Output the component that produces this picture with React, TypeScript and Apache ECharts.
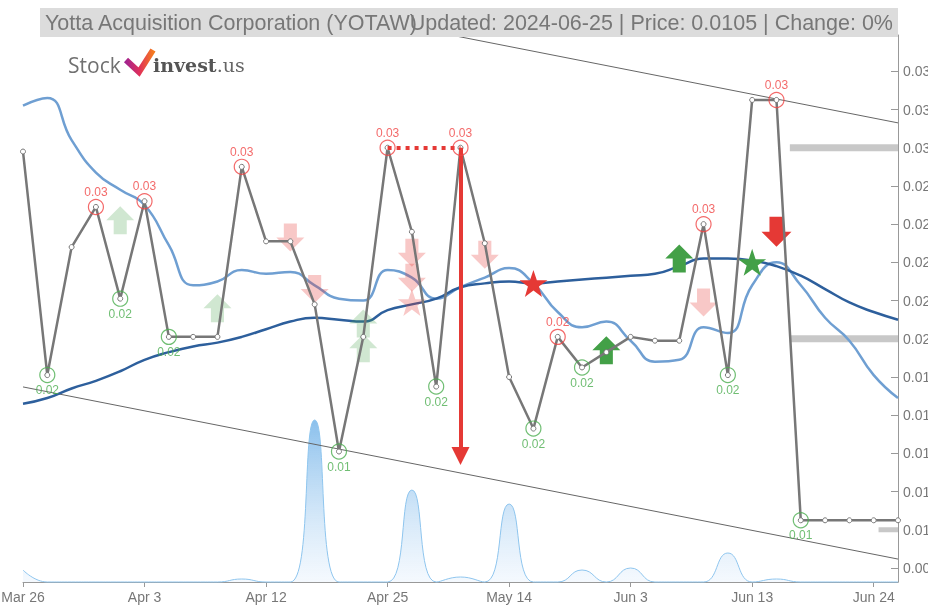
import React, { useEffect, useRef } from 'react';
import * as echarts from 'echarts';

const dates = ['Mar 26','Mar 27','Mar 28','Apr 1','Apr 2','Apr 3','Apr 4','Apr 5','Apr 9','Apr 10','Apr 12','Apr 15','Apr 16','Apr 18','Apr 22','Apr 25','Apr 26','Apr 30','May 2','May 8','May 14','May 16','May 20','May 22','May 29','Jun 3','Jun 4','Jun 5','Jun 6','Jun 11','Jun 13','Jun 14','Jun 17','Jun 18','Jun 20','Jun 24','Jun 25'];

const price = [0.0298,0.0181,0.0248,0.0269,0.0221,0.0272,0.0201,0.0201,0.0201,0.0290,0.0251,0.0251,0.0218,0.0141,0.0201,0.0300,0.0256,0.0175,0.0300,0.0250,0.0180,0.0153,0.0201,0.0185,0.0193,0.0201,0.0199,0.0199,0.0260,0.0181,0.0325,0.0325,0.0105,0.0105,0.0105,0.0105,0.0105];

const maFast = [0.0322,0.0326,0.0304,0.0287,0.0278,0.0270,0.0249,0.0228,0.0230,0.0236,0.0234,0.0235,0.0228,0.0221,0.0220,0.0236,0.0232,0.0221,0.0227,0.0232,0.0237,0.0229,0.0214,0.0206,0.0209,0.0199,0.0188,0.0189,0.0206,0.0203,0.0228,0.0240,0.0228,0.0211,0.0199,0.0181,0.0169];

const maSlow = [0.0166,0.0169,0.0174,0.0178,0.0183,0.0189,0.0193,0.0196,0.0198,0.0201,0.0205,0.0209,0.0211,0.0210,0.0209,0.0215,0.0218,0.0221,0.0227,0.0229,0.0230,0.0229,0.0230,0.0231,0.0232,0.0233,0.0234,0.0238,0.0242,0.0242,0.0241,0.0238,0.0233,0.0226,0.0219,0.0214,0.0210];

const volume = [1200,0,0,0,0,0,0,0,0,300,0,0,16200,0,0,0,9200,0,500,0,7800,0,0,1200,0,1400,0,0,0,2900,0,300,0,0,0,0,0];

const highIdx = [3,5,9,15,18,22,28,31];
const lowIdx = [1,4,6,13,17,21,23,29,32];

const upSignalsPale = [[4,0.0262],[8,0.0216],[14,0.0208],[14,0.0195]];
const upSignalsStrong = [[24,0.0194],[27,0.0242]];
const downSignalsPale = [[11,0.0253],[12,0.0226],[16,0.0245],[16,0.0232],[19,0.0244],[28,0.0219]];
const downSignalsStrong = [[31,0.0256]];
const sellStarsPale = [[16,0.0219]];
const sellStarsStrong = [[21,0.0229]];
const buyStarsStrong = [[30,0.0240]];

const channelUpper = [[0,0.0403],[36,0.0313]];
const channelLower = [[0,0.01748],[36,0.00847]];

const plateauFrom = 15;
const plateauTo = 18;
const plateauValue = 0.030;
const dropTarget = 0.01386;

const profileLevels = [0.030,0.020,0.010];
const profileStart = [31.55,31.55,35.2];
const profileEnd = 36;

const yMin = 0.00727;
const yMax = 0.0359;
const volMax = 54700;

const UP = 'path://M15,0 L30,15 L22,15 L22,30 L8,30 L8,15 L0,15 Z';
const DOWN = 'path://M8,0 L22,0 L22,15 L30,15 L15,30 L0,15 L8,15 Z';
const STAR = 'path://M50,0 L61.8,35.1 L98.1,35.1 L68.8,56.8 L79.4,91.9 L50,70.2 L20.6,91.9 L31.2,56.8 L1.9,35.1 L38.2,35.1 Z';

const RED = '#e53935';
const GREEN = '#43a047';
const FONT = '"Liberation Sans", Arial, sans-serif';

function signalSeries(data: number[][], symbol: string, color: string, opacity: number, size: number[]) {
  return {
    type: 'scatter',
    data,
    symbol,
    symbolSize: size,
    itemStyle: { color, opacity },
    z: 3,
    silent: true,
  };
}

export default function App() {
  const ref = useRef<HTMLDivElement>(null);
  useEffect(() => {
    if (!ref.current) return;
    const chart = echarts.init(ref.current, null, { renderer: 'svg' });
    const highs = highIdx.map((i) => [i, price[i]]);
    const lows = lowIdx.map((i) => [i, price[i]]);
    const profileSeries = profileLevels.map((lv, k) => ({
      type: 'line',
      xAxisIndex: 1,
      data: [[profileStart[k], lv], [profileEnd, lv]],
      symbol: 'none',
      lineStyle: { color: '#c8c8c8', width: k === 2 ? 5 : 7, cap: 'butt' },
      z: 2,
      silent: true,
    }));
    const option: any = {
      animation: false,
      grid: { left: 23, right: 30, top: 35, bottom: 26, containLabel: false, outerBoundsMode: 'none' },
      xAxis: [
        {
          type: 'category',
          data: dates,
          boundaryGap: false,
          axisLine: { onZero: false, lineStyle: { color: '#999', width: 1 } },
          axisTick: { interval: 4, length: 5, lineStyle: { color: '#999' } },
          axisLabel: { interval: 4, color: '#777', fontSize: 14, fontFamily: FONT, margin: 8 },
          splitLine: { show: false },
        },
        { type: 'value', min: 0, max: dates.length - 1, show: false },
      ],
      yAxis: [
        {
          type: 'value',
          position: 'right',
          min: yMin,
          max: yMax,
          splitNumber: 15,
          minInterval: 0.002,
          maxInterval: 0.002,
          axisLine: { show: true, onZero: false, lineStyle: { color: '#999' } },
          axisTick: { show: true, inside: true, length: 7, lineStyle: { color: '#999' } },
          axisLabel: {
            color: '#777', fontSize: 14, fontFamily: FONT, margin: 5,
            showMinLabel: false, showMaxLabel: false,
            formatter: (v: number) => v.toFixed(3),
          },
          splitLine: { show: false },
        },
        { type: 'value', min: 0, max: volMax, show: false },
      ],
      series: [
        {
          name: 'Volume',
          type: 'line',
          yAxisIndex: 1,
          data: volume,
          smooth: true,
          symbol: 'none',
          clip: false,
          lineStyle: { color: '#8ec5ee', width: 1 },
          areaStyle: {
            color: new echarts.graphic.LinearGradient(0, 0, 0, 1, [
              { offset: 0, color: 'rgba(70,155,225,0.9)' },
              { offset: 1, color: 'rgba(225,238,252,0.5)' },
            ]),
          },
          z: 1,
          silent: true,
        },
        ...profileSeries,
        {
          name: 'Upper',
          type: 'line',
          data: channelUpper,
          symbol: 'none',
          lineStyle: { color: '#666', width: 1 },
          z: 2,
          silent: true,
        },
        {
          name: 'Lower',
          type: 'line',
          data: channelLower,
          symbol: 'none',
          lineStyle: { color: '#666', width: 1 },
          z: 2,
          silent: true,
        },
        {
          name: 'MA fast',
          type: 'line',
          data: maFast,
          smooth: true,
          symbol: 'none',
          lineStyle: { color: '#6f9fd2', width: 2.5 },
          z: 2,
          silent: true,
        },
        {
          name: 'MA slow',
          type: 'line',
          data: maSlow,
          smooth: true,
          symbol: 'none',
          lineStyle: { color: '#2d5f9c', width: 2.5 },
          z: 2,
          silent: true,
        },
        signalSeries(upSignalsPale, UP, GREEN, 0.25, [28, 28]),
        signalSeries(downSignalsPale, DOWN, RED, 0.28, [28, 28]),
        signalSeries(sellStarsPale, STAR, RED, 0.28, [28, 27]),
        {
          name: 'Price',
          type: 'line',
          data: price,
          symbol: 'circle',
          symbolSize: 5,
          showSymbol: true,
          lineStyle: { color: '#777', width: 2.5 },
          itemStyle: { color: '#fff', borderColor: '#777', borderWidth: 1 },
          z: 4,
          silent: true,
          markLine: {
            silent: true,
            animation: false,
            label: { show: false },
            symbol: 'none',
            data: [
              [
                { coord: [plateauFrom, plateauValue], lineStyle: { color: RED, width: 4, type: [4, 5] }, symbol: 'none' },
                { coord: [plateauTo, plateauValue], symbol: 'none' },
              ],
              [
                { coord: [plateauTo, plateauValue], lineStyle: { color: RED, width: 4, type: 'solid' }, symbol: 'none' },
                { coord: [plateauTo, dropTarget], symbol: 'triangle', symbolSize: [18, 18] },
              ],
            ],
          },
        },
        {
          name: 'Highs',
          type: 'scatter',
          data: highs,
          symbol: 'circle',
          symbolSize: 15,
          itemStyle: { color: 'rgba(0,0,0,0)', borderColor: '#f04545', borderWidth: 1.2 },
          label: {
            show: true, position: 'top', distance: 1, color: '#f04545', fontSize: 12, fontFamily: FONT,
            formatter: (p: any) => p.value[1].toFixed(2),
          },
          z: 5,
          silent: true,
        },
        {
          name: 'Lows',
          type: 'scatter',
          data: lows,
          symbol: 'circle',
          symbolSize: 15,
          itemStyle: { color: 'rgba(0,0,0,0)', borderColor: '#4cae50', borderWidth: 1.2 },
          label: {
            show: true, position: 'bottom', distance: 1, color: '#4cae50', fontSize: 12, fontFamily: FONT,
            formatter: (p: any) => p.value[1].toFixed(2),
          },
          z: 5,
          silent: true,
        },
        signalSeries(upSignalsStrong, UP, GREEN, 1, [28, 28]),
        signalSeries(downSignalsStrong, DOWN, RED, 1, [30, 30]),
        signalSeries(sellStarsStrong, STAR, RED, 1, [28, 27]),
        signalSeries(buyStarsStrong, STAR, GREEN, 1, [28, 27]),
      ],
      graphic: [
        { type: 'rect', shape: { x: 40, y: 8, width: 858, height: 29 }, style: { fill: '#dcdcdc' }, z: 100, silent: true },
        {
          type: 'text', x: 45, y: 23, z: 101, silent: true,
          style: { text: 'Yotta Acquisition Corporation (YOTAW)', fill: '#777', fontSize: 21.5, fontFamily: FONT, verticalAlign: 'middle', align: 'left' },
        },
        {
          type: 'text', x: 893, y: 23, z: 101, silent: true,
          style: { text: 'Updated: 2024-06-25 | Price: 0.0105 | Change: 0%', fill: '#777', fontSize: 21.5, fontFamily: FONT, verticalAlign: 'middle', align: 'right' },
        },
        {
          type: 'text', x: 68, y: 65, z: 101, silent: true,
          style: { text: 'Stock', fill: '#707070', fontSize: 21, fontFamily: '"Open Sans", sans-serif', verticalAlign: 'middle' },
        },
        {
          type: 'polyline', z: 101, silent: true,
          shape: { points: [[126, 60], [139, 72], [153, 50]] },
          style: {
            lineWidth: 6, fill: 'none',
            stroke: new echarts.graphic.LinearGradient(0, 0, 1, 0, [
              { offset: 0, color: '#a3238f' },
              { offset: 0.5, color: '#e0305a' },
              { offset: 1, color: '#f47a20' },
            ]),
          },
        },
        {
          type: 'text', x: 153, y: 65, z: 101, silent: true,
          style: {
            text: '{a|invest}{b|.us}', verticalAlign: 'middle',
            rich: {
              a: { fontSize: 19, fontWeight: 'bold', fill: '#555', fontFamily: '"DejaVu Serif", serif' },
              b: { fontSize: 19, fill: '#666', fontFamily: '"DejaVu Serif", serif' },
            },
          },
        },
      ],
    };
    chart.setOption(option);
    return () => chart.dispose();
  }, []);
  return <div ref={ref} style={{ position: 'fixed', left: 0, top: 0, width: 928, height: 608 }} />;
}
